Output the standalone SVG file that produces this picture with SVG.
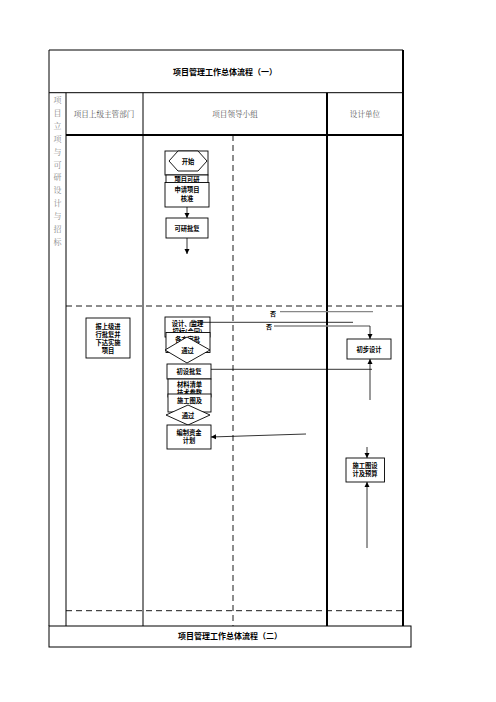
<svg xmlns="http://www.w3.org/2000/svg" width="496" height="702" viewBox="0 0 496 702">
<style>
.bg{fill:#fff}
.frame{stroke:#000;stroke-width:1;fill:none}
.thick{stroke:#000;stroke-width:2;fill:none}
.dash{stroke:#000;stroke-width:0.9;stroke-dasharray:6,4;fill:none}
.box{fill:#fff;stroke:#000;stroke-width:0.9}
.t{font-family:"Noto Sans CJK SC","Noto Sans",sans-serif;font-weight:bold;font-size:6.3px;fill:#000;text-anchor:middle}
.title{font-family:"Noto Sans CJK SC","Noto Sans",sans-serif;font-weight:bold;font-size:8px;fill:#000;text-anchor:middle}
.hdr{font-family:"Noto Serif CJK SC","Noto Sans CJK SC",serif;font-size:7.6px;fill:#555;text-anchor:middle}
.side{font-family:"Noto Serif CJK SC","Noto Sans CJK SC",serif;font-size:8px;fill:#888;text-anchor:middle}
.ln{stroke:#000;stroke-width:0.8;fill:none}
.gl{stroke:#888;stroke-width:1.3;fill:none}
.no{font-family:"Noto Sans CJK SC",sans-serif;font-weight:bold;font-size:6px;fill:#000;text-anchor:middle}
</style>
<defs>
<marker id="ah" markerWidth="6" markerHeight="6" refX="5" refY="3" orient="auto" markerUnits="userSpaceOnUse">
<path d="M0,0.5 L5,3 L0,5.5 Z" fill="#000"/>
</marker>
</defs>
<rect class="bg" x="0" y="0" width="496" height="702"/>

<g id="frame">
<line class="frame" x1="49" y1="50" x2="403" y2="50"/>
<line class="frame" x1="49" y1="50" x2="49" y2="626"/>
<line class="frame" x1="49" y1="92.7" x2="403" y2="92.7"/>
<line class="frame" x1="66" y1="92.7" x2="66" y2="626"/>
<line class="frame" x1="143" y1="92.7" x2="143" y2="626"/>
<line class="thick" x1="327" y1="92.7" x2="327" y2="626"/>
<line class="thick" x1="403" y1="50" x2="403" y2="626"/>
<line class="thick" x1="66" y1="135" x2="403" y2="135"/>
<line class="dash" x1="233" y1="135" x2="233" y2="626"/>
<line class="dash" x1="66" y1="306" x2="403" y2="306"/>
<line class="dash" x1="66" y1="610.7" x2="403" y2="610.7"/>
<text class="title" x="225" y="74.5">项目管理工作总体流程（一）</text>
<text class="hdr" x="104" y="117">项目上级主管部门</text>
<text class="hdr" x="235" y="117">项目领导小组</text>
<text class="hdr" x="365" y="117">设计单位</text>
<g class="side">
<text x="57.5" y="103">项</text>
<text x="57.5" y="115.9">目</text>
<text x="57.5" y="128.8">立</text>
<text x="57.5" y="141.7">项</text>
<text x="57.5" y="154.6">与</text>
<text x="57.5" y="167.5">可</text>
<text x="57.5" y="180.4">研</text>
<text x="57.5" y="193.3">设</text>
<text x="57.5" y="206.2">计</text>
<text x="57.5" y="219.1">与</text>
<text x="57.5" y="232">招</text>
<text x="57.5" y="244.9">标</text>
</g>
</g>

<g id="frame2">
<rect x="49" y="626" width="362" height="21" fill="#fff" stroke="#000" stroke-width="1"/>
<text class="title" x="230" y="639">项目管理工作总体流程（二）</text>
</g>

<g id="connectors">
<line class="ln" x1="187" y1="171" x2="187" y2="181" marker-end="url(#ah)"/>
<line class="ln" x1="187" y1="207" x2="187" y2="218" marker-end="url(#ah)"/>
<line class="ln" x1="187" y1="238" x2="187" y2="254" marker-end="url(#ah)"/>
<line class="gl" x1="280" y1="311.7" x2="373" y2="311.7"/>
<line class="gl" x1="274" y1="326" x2="370" y2="326"/>
<line class="ln" x1="370" y1="326" x2="370" y2="339" marker-end="url(#ah)"/>
<line class="ln" x1="370" y1="400" x2="370" y2="359" marker-end="url(#ah)"/>
<line class="ln" x1="211" y1="369.3" x2="372" y2="369.3"/>
<line class="ln" x1="367" y1="447" x2="367" y2="458" marker-end="url(#ah)"/>
<line class="ln" x1="367" y1="548" x2="367" y2="482" marker-end="url(#ah)"/>
<line class="ln" x1="306" y1="434" x2="211" y2="437" marker-end="url(#ah)"/>
<text class="no" x="273" y="316">否</text>
<text class="no" x="269" y="329">否</text>
</g>

<g id="n_start_bg"><rect class="box" x="165" y="151" width="43" height="24"/></g>
<g id="n_start">
<polygon class="box" points="169,161 178,151 198,151 207,161 198,171 178,171"/>
<text class="t" x="188" y="163.5">开始</text>
</g>
<g id="n_kyan">
<rect class="box" x="166" y="175" width="42" height="18"/>
<text class="t" x="187" y="182">项目可研</text>
</g>
<g id="n_apply">
<rect class="box" x="165" y="182.5" width="44" height="24.5"/>
<text class="t" x="187" y="192">申请项目</text>
<text class="t" x="187" y="200.5">核准</text>
</g>
<g id="n_kypf">
<rect class="box" x="166" y="218" width="42" height="20"/>
<text class="t" x="187" y="230.5">可研批复</text>
</g>

<g id="n_report">
<rect class="box" x="86" y="318" width="44" height="40"/>
<text class="t" x="108" y="328.5">报上级进</text>
<text class="t" x="108" y="336.8">行批复并</text>
<text class="t" x="108" y="345.1">下达实施</text>
<text class="t" x="108" y="353.4">项目</text>
</g>

<g id="n_zhaobiao">
<rect class="box" x="165" y="317" width="45" height="20"/>
<text class="t" x="187.5" y="325.5">设计、监理</text>
<text class="t" x="187.5" y="333.5">招标(合同)</text>
</g>
<line class="ln" x1="190" y1="322.3" x2="353" y2="322.3"/>
<line class="ln" x1="190" y1="322.3" x2="190" y2="327"/>
<g id="n_behind1">
<rect class="box" x="166" y="332.5" width="44" height="20"/>
<text class="t" x="187.5" y="341.5">各方审批</text>
</g>
<g id="n_pass1">
<polygon class="box" points="165,350 187,337 210,350 187,363"/>
<text class="t" x="187.5" y="352.5">通过</text>
</g>

<g id="n_prelim">
<rect class="box" x="347" y="339" width="44" height="20"/>
<text class="t" x="369" y="351.5">初步设计</text>
</g>

<g id="n_cspf">
<rect class="box" x="167" y="364" width="44" height="15"/>
<text class="t" x="189" y="373.5">初设批复</text>
</g>
<g id="n_cailiao">
<rect class="box" x="168" y="379" width="43" height="18"/>
<text class="t" x="189.5" y="387">材料清单</text>
<text class="t" x="189.5" y="395">技术参数</text>
</g>
<g id="n_sgt">
<rect class="box" x="168" y="394" width="43" height="18"/>
<text class="t" x="189.5" y="403">施工图及</text>
</g>
<g id="n_pass2">
<polygon class="box" points="166,415 188,405 210,415 188,425"/>
<text class="t" x="188" y="417.5">通过</text>
</g>
<g id="n_fund">
<rect class="box" x="167" y="425" width="44" height="24"/>
<text class="t" x="189" y="434.5">编制资金</text>
<text class="t" x="189" y="443">计划</text>
</g>

<g id="n_sgtsj">
<rect class="box" x="346" y="458" width="38.5" height="24"/>
<text class="t" x="365" y="467.5">施工图设</text>
<text class="t" x="365" y="476">计及预算</text>
</g>
</svg>
